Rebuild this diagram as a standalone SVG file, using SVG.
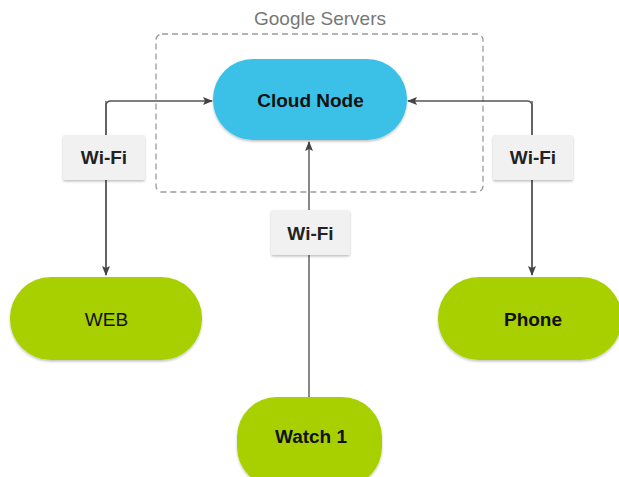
<svg xmlns="http://www.w3.org/2000/svg" width="619" height="477" viewBox="0 0 619 477">
  <defs>
    <marker id="arrow" viewBox="0 0 10 10" refX="9" refY="5" markerWidth="10" markerHeight="10" markerUnits="userSpaceOnUse" orient="auto">
      <path d="M0,1 L10,5 L0,9 L2,5 Z" fill="#444"/>
    </marker>
    <filter id="shadow" x="-10%" y="-10%" width="120%" height="130%">
      <feDropShadow dx="0" dy="1.5" stdDeviation="1.2" flood-color="#000" flood-opacity="0.25"/>
    </filter>
  </defs>
  <style>
    .group-box { fill: none; stroke: #9a9a9a; stroke-width: 1.3; stroke-dasharray: 6 4; }
    .group-title { font-family: "Liberation Sans", Arial, sans-serif; font-size: 19px; fill: #777; text-anchor: middle; }
    .cloud { fill: #3BC1E8; filter: url(#shadow); }
    .device { fill: #A8D000; filter: url(#shadow); }
    .label-box { fill: #f1f1f1; filter: url(#shadow); }
    .node-text { font-family: "Liberation Sans", Arial, sans-serif; font-size: 19px; font-weight: bold; fill: #111; text-anchor: middle; }
    .node-text.plain { font-weight: normal; }
    .wifi-text { font-family: "Liberation Sans", Arial, sans-serif; font-size: 19px; font-weight: bold; fill: #222; text-anchor: middle; }
    .link { fill: none; stroke: #555; stroke-width: 1.4; }
  </style>
  <rect width="619" height="477" fill="#fff"/>

  <!-- Google Servers group -->
  <g id="google-servers">
    <rect class="group-box" x="156" y="34" width="327" height="158" rx="6"/>
    <text class="group-title" x="320" y="25">Google Servers</text>
  </g>

  <!-- connectors -->
  <g id="connectors">
    <path class="link" d="M106,275 L106,106 Q106,101 111,101 L212,101" marker-end="url(#arrow)"/>
    <path class="link" d="M106,101 L106,275" marker-end="url(#arrow)"/>
    <path class="link" d="M532,275 L532,106 Q532,101 527,101 L408,101" marker-end="url(#arrow)"/>
    <path class="link" d="M532,101 L532,275" marker-end="url(#arrow)"/>
    <path class="link" d="M309,397 L309,142" marker-end="url(#arrow)"/>
  </g>

  <!-- Wi-Fi labels -->
  <g id="wifi-left">
    <rect class="label-box" x="63" y="135" width="82" height="45" rx="2"/>
    <text class="wifi-text" x="104" y="163.5">Wi-Fi</text>
  </g>
  <g id="wifi-right">
    <rect class="label-box" x="493" y="135" width="80" height="45" rx="2"/>
    <text class="wifi-text" x="533" y="163.5">Wi-Fi</text>
  </g>
  <g id="wifi-middle">
    <rect class="label-box" x="271" y="210" width="79" height="45" rx="2"/>
    <text class="wifi-text" x="310.5" y="239.5">Wi-Fi</text>
  </g>

  <!-- nodes -->
  <g id="cloud-node">
    <rect class="cloud" x="213" y="59" width="194" height="81" rx="40"/>
    <text class="node-text" x="310.5" y="106.5">Cloud Node</text>
  </g>
  <g id="web">
    <rect class="device" x="10" y="277" width="192" height="83" rx="41"/>
    <text class="node-text plain" x="106.5" y="326">WEB</text>
  </g>
  <g id="phone">
    <rect class="device" x="438" y="277" width="184" height="83" rx="41"/>
    <text class="node-text" x="533" y="326">Phone</text>
  </g>
  <g id="watch-1">
    <rect class="device" x="237" y="397" width="145" height="90" rx="40"/>
    <text class="node-text" x="311" y="443">Watch 1</text>
  </g>
</svg>
